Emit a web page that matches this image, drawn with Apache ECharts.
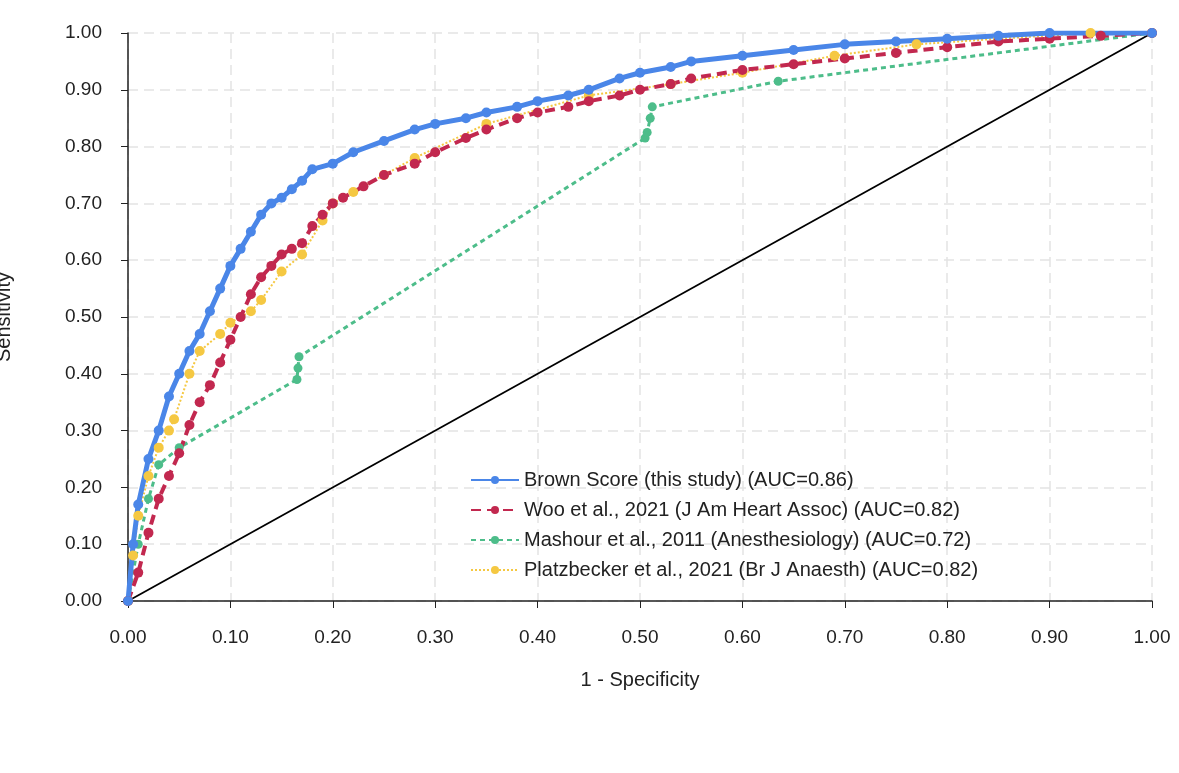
<!DOCTYPE html>
<html><head><meta charset="utf-8">
<script src="https://cdn.jsdelivr.net/npm/echarts@6/dist/echarts.min.js"></script>
<style>html,body{margin:0;background:#fff}#c{width:1179px;height:773px}</style>
</head><body><div id="c"></div>
<script>
// ROC points [1-specificity, sensitivity]
var brown = [[0,0],[0.005,0.1],[0.01,0.17],[0.02,0.25],[0.03,0.3],[0.04,0.36],[0.05,0.4],[0.06,0.44],[0.07,0.47],[0.08,0.51],[0.09,0.55],[0.1,0.59],[0.11,0.62],[0.12,0.65],[0.13,0.68],[0.14,0.7],[0.15,0.71],[0.16,0.725],[0.17,0.74],[0.18,0.76],[0.2,0.77],[0.22,0.79],[0.25,0.81],[0.28,0.83],[0.3,0.84],[0.33,0.85],[0.35,0.86],[0.38,0.87],[0.4,0.88],[0.43,0.89],[0.45,0.9],[0.48,0.92],[0.5,0.93],[0.53,0.94],[0.55,0.95],[0.6,0.96],[0.65,0.97],[0.7,0.98],[0.75,0.985],[0.8,0.99],[0.85,0.995],[0.9,1.0],[1,1]];
var woo = [[0,0],[0.01,0.05],[0.02,0.12],[0.03,0.18],[0.04,0.22],[0.05,0.26],[0.06,0.31],[0.07,0.35],[0.08,0.38],[0.09,0.42],[0.1,0.46],[0.11,0.5],[0.12,0.54],[0.13,0.57],[0.14,0.59],[0.15,0.61],[0.16,0.62],[0.17,0.63],[0.18,0.66],[0.19,0.68],[0.2,0.7],[0.21,0.71],[0.23,0.73],[0.25,0.75],[0.28,0.77],[0.3,0.79],[0.33,0.815],[0.35,0.83],[0.38,0.85],[0.4,0.86],[0.43,0.87],[0.45,0.88],[0.48,0.89],[0.5,0.9],[0.53,0.91],[0.55,0.92],[0.6,0.935],[0.65,0.945],[0.7,0.955],[0.75,0.965],[0.8,0.975],[0.85,0.985],[0.9,0.99],[0.95,0.995],[1,1]];
var mashour = [[0,0],[0.01,0.1],[0.02,0.18],[0.03,0.24],[0.05,0.27],[0.165,0.39],[0.166,0.41],[0.167,0.43],[0.505,0.815],[0.507,0.825],[0.51,0.85],[0.512,0.87],[0.635,0.915],[1,1]];
var platz = [[0,0],[0.005,0.08],[0.01,0.15],[0.02,0.22],[0.03,0.27],[0.04,0.3],[0.045,0.32],[0.06,0.4],[0.07,0.44],[0.09,0.47],[0.1,0.49],[0.12,0.51],[0.13,0.53],[0.15,0.58],[0.17,0.61],[0.19,0.67],[0.2,0.7],[0.22,0.72],[0.25,0.75],[0.28,0.78],[0.35,0.84],[0.45,0.89],[0.53,0.91],[0.6,0.93],[0.69,0.96],[0.77,0.98],[0.85,0.99],[0.94,1],[1,1]];
var diag = [[0,0],[1,1]];
var names = ['Brown Score (this study) (AUC=0.86)','Woo et al., 2021 (J Am Heart Assoc) (AUC=0.82)','Mashour et al., 2011 (Anesthesiology) (AUC=0.72)','Platzbecker et al., 2021 (Br J Anaesth) (AUC=0.82)'];

var font = 'Liberation Sans';
var split = {show:true, lineStyle:{color:'#e4e4e4', type:[10,6], width:1.5}};
function fmt(v){ return v.toFixed(2); }
function ser(name, data, color, ltype, lw, sz){
    return {name:name, type:'line', data:data, symbol:'circle', symbolSize:sz,
        itemStyle:{color:color}, lineStyle:{color:color, type:ltype, width:lw},
        animation:false};
}
var chart = echarts.init(document.getElementById('c'));
chart.setOption({
    backgroundColor:'#fff',
    grid:{left:128, right:27, top:33, bottom:172, containLabel:false, outerBoundsMode:'none'},
    legend:{left:465, top:465, orient:'vertical', itemGap:10, itemWidth:48, itemHeight:10,
        textStyle:{fontFamily:font, fontSize:20, color:'#222'}, data:names},
    xAxis:{type:'value', min:0, max:1, interval:0.1, offset:17,
        name:'1 - Specificity', nameLocation:'middle', nameGap:52,
        nameTextStyle:{fontFamily:font, fontSize:20, color:'#222'},
        axisLine:{lineStyle:{color:'#222', width:1.5}},
        axisTick:{length:7, lineStyle:{color:'#222'}},
        axisLabel:{formatter:fmt, fontFamily:font, fontSize:19, color:'#222', margin:10},
        splitLine:split},
    yAxis:{type:'value', min:0, max:1, interval:0.1, offset:16,
        name:'Sensitivity', nameLocation:'middle', nameGap:98,
        nameTextStyle:{fontFamily:font, fontSize:20, color:'#222'},
        axisLine:{show:true, lineStyle:{color:'#222', width:1.5}},
        axisTick:{show:true, length:7, lineStyle:{color:'#222'}},
        axisLabel:{formatter:fmt, fontFamily:font, fontSize:19, color:'#222', margin:10},
        splitLine:split},
    series:[
        {type:'line', data:diag, symbol:'none', lineStyle:{color:'#000', width:1.8}, animation:false, silent:true},
        ser(names[3], platz, '#f5c842', 'dotted', 2, 10),
        ser(names[2], mashour, '#4dbd8a', [5,4], 3, 9),
        ser(names[1], woo, '#c2284f', [10,6], 4, 10),
        ser(names[0], brown, '#4a86e8', 'solid', 5, 10)
    ]
});
</script></body></html>
